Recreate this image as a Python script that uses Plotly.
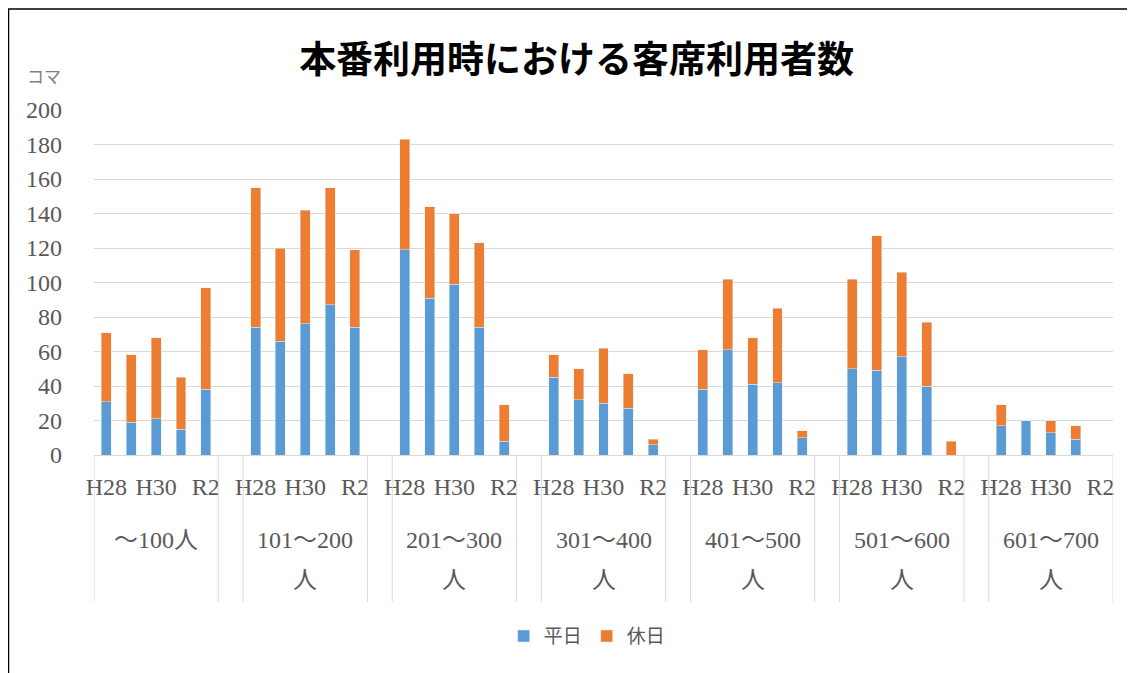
import plotly.graph_objects as go

# data
groups = ["～100人", "101～200<br>人", "201～300<br>人", "301～400<br>人",
          "401～500<br>人", "501～600<br>人", "601～700<br>人"]
years = ["H28", "H29", "H30", "R1", "R2"]
year_ticks = ["H28", "H30", "R2"]

weekday = [
    [31, 19, 21, 15, 38],
    [74, 66, 76, 87, 74],
    [119, 91, 99, 74, 8],
    [45, 32, 30, 27, 6],
    [38, 61, 41, 42, 10],
    [50, 49, 57, 40, 0],
    [17, 20, 13, 9, 0],
]
holiday = [
    [40, 39, 47, 30, 59],
    [81, 54, 66, 68, 45],
    [64, 53, 41, 49, 21],
    [13, 18, 32, 20, 3],
    [23, 41, 27, 43, 4],
    [52, 78, 49, 37, 8],
    [12, 0, 7, 8, 0],
]

blue = "#5B9BD5"
orange = "#ED7D31"
grey = "#595959"
serif = "Liberation Serif, Noto Sans CJK JP"

# each group takes 5 slots plus one empty slot between groups
step = len(years) + 1
xs, wd, hd, names = [], [], [], []
for g in range(len(groups)):
    for j in range(len(years)):
        xs.append(g * step + j)
        wd.append(weekday[g][j])
        hd.append(holiday[g][j])
        names.append(years[j])

tickvals = [g * step + years.index(t) for g in range(len(groups)) for t in year_ticks]
ticktext = [t for g in range(len(groups)) for t in year_ticks]

fig = go.Figure()
fig.add_trace(go.Bar(x=xs, y=wd, name="平日", marker_color=blue, width=0.4,
                     customdata=names))
fig.add_trace(go.Bar(x=xs, y=hd, name="休日", marker_color=orange, width=0.4,
                     customdata=names))

# group labels (Excel wraps them with wide line spacing) and divider lines
for g, lab in enumerate(groups):
    for k, part in enumerate(lab.split("<br>")):
        fig.add_annotation(x=g * step + 2, y=-0.246 - 0.116 * k, xref="x", yref="paper",
                           text=part, showarrow=False, yanchor="middle",
                           font=dict(family=serif, size=24, color=grey))
    for xv in (g * step - 0.5, g * step + len(years) - 0.5):
        fig.add_shape(type="line", xref="x", yref="paper", x0=xv, x1=xv,
                      y0=0, y1=-0.426, line=dict(color="#D9D9D9", width=1))

fig.add_annotation(x=-0.049, y=1.101, xref="paper", yref="paper", text="コマ",
                   showarrow=False, xanchor="center", yanchor="middle",
                   font=dict(family="Noto Sans CJK JP", size=17, color="#7f7f7f"))

# outer frame
fig.add_shape(type="rect", xref="paper", yref="paper",
              x0=-0.0839, x1=1.0167, y0=-0.75, y1=1.2928,
              line=dict(color="black", width=1.5))

fig.update_layout(
    barmode="stack",
    width=1135, height=673,
    margin=dict(l=86, r=30, t=102, b=226),
    paper_bgcolor="white", plot_bgcolor="white",
    title=dict(text="<b>本番利用時における客席利用者数</b>", x=0.501, xanchor="center",
               y=0.923, yanchor="middle",
               font=dict(family="Noto Sans CJK JP", size=37, color="black")),
    legend=dict(orientation="h", x=0.484, xanchor="center", y=-0.525, yanchor="middle",
                traceorder="normal",
                font=dict(family=serif, size=19, color=grey), itemwidth=30),
    showlegend=True,
)
fig.update_xaxes(range=[-0.5, len(groups) * step - 1.5], tickvals=tickvals,
                 ticktext=ticktext, tickangle=0, showgrid=False, zeroline=False,
                 showline=True, linecolor="#D9D9D9", ticklabelstandoff=10,
                 tickfont=dict(family=serif, size=24, color=grey))
fig.update_yaxes(range=[0, 200], dtick=20, showgrid=True, gridcolor="#D9D9D9",
                 zeroline=False, ticklabelstandoff=31,
                 tickfont=dict(family=serif, size=24, color=grey))

fig.write_html("out.html")
